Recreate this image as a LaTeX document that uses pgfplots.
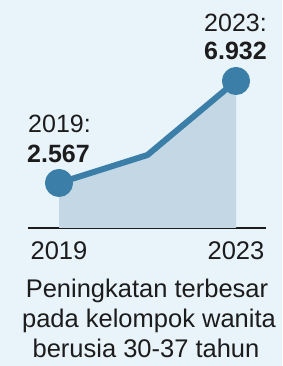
\documentclass[border=0pt]{standalone}
\usepackage{pgfplots}
\pgfplotsset{compat=1.18}
\usepackage{fontspec}
\setmainfont{Liberation Sans}
\definecolor{bgc}{HTML}{E8F3FA}
\definecolor{fillc}{HTML}{C3D7E5}
\definecolor{linec}{HTML}{3B7EA7}
\definecolor{txtc}{HTML}{1C1C1C}
\begin{document}
\begin{tikzpicture}[x=1pt,y=1pt]
\fill[bgc] (0,0) rectangle (282,366);
\begin{axis}[
  at={(28pt,138pt)}, anchor=south west,
  scale only axis, width=238pt, height=210pt,
  xmin=2018.2994, xmax=2023.678, ymin=0.641, ymax=9.628,
  hide y axis, axis x line=bottom,
  x axis line style={-, line width=1.6pt, color=txtc},
  xtick={2019,2023}, xticklabels={2019,2023},
  major tick length=0pt,
  xticklabel style={font=\fontsize{25.5}{30}\selectfont, text=txtc, inner sep=0pt, anchor=base, yshift=-32pt},
]
\addplot[draw=none, fill=fillc] coordinates {(2019,2.567) (2021,3.765) (2023,6.932)} \closedcycle;
\addplot[linec, line width=6pt, line join=round, mark=*, mark indices={1,3}, mark size=11pt, mark options={fill=linec, draw=none}] coordinates {(2019,2.567) (2021,3.765) (2023,6.932)};
\end{axis}
\begin{scope}[every node/.style={inner sep=0pt, text=txtc}]
\node[anchor=base west, font=\fontsize{25}{30}\selectfont] at (28,233) {2019:};
\node[anchor=base west, font=\fontsize{25}{30}\selectfont\bfseries] at (27,203) {2.567};
\node[anchor=base east, font=\fontsize{25}{30}\selectfont] at (267,334) {2023:};
\node[anchor=base east, font=\fontsize{25}{30}\selectfont\bfseries] at (267,306) {6.932};
\node[anchor=base, font=\fontsize{25.5}{30}\selectfont] at (147,68) {Peningkatan terbesar};
\node[anchor=base, font=\fontsize{25.5}{30}\selectfont] at (149,38.5) {pada kelompok wanita};
\node[anchor=base, font=\fontsize{25.5}{30}\selectfont] at (146,9) {berusia 30-37 tahun};
\end{scope}
\end{tikzpicture}
\end{document}
